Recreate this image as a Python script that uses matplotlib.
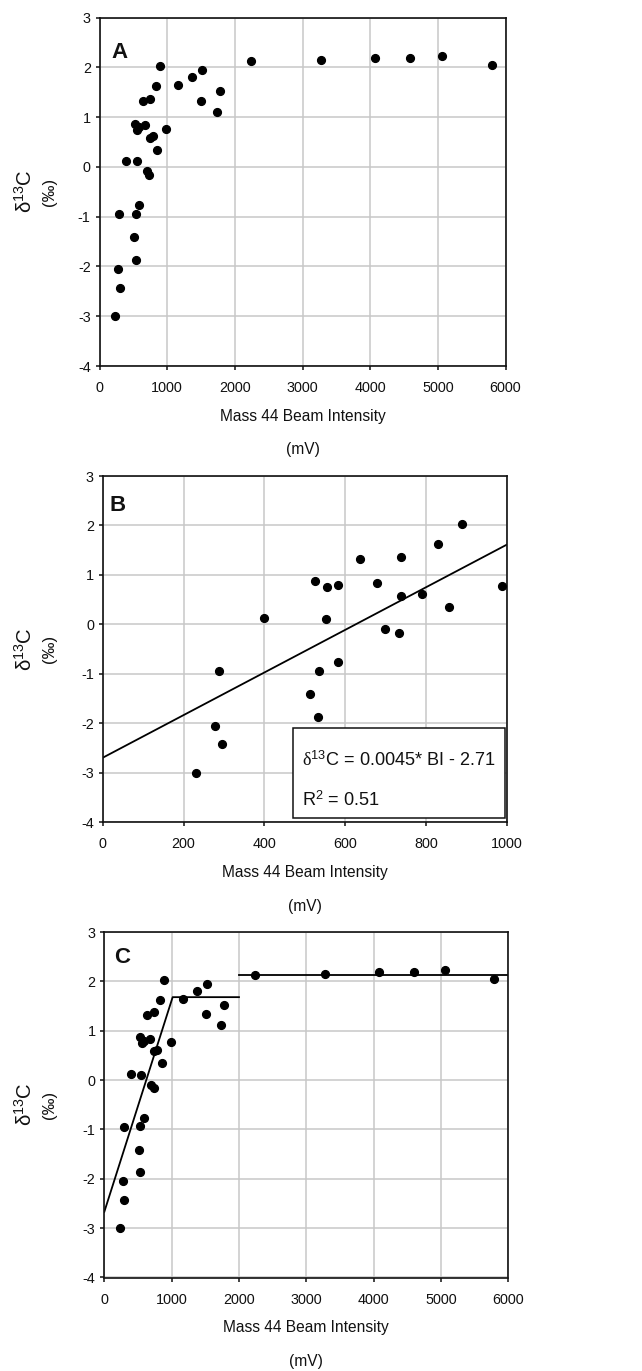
import matplotlib
matplotlib.use("Agg")
import matplotlib.pyplot as plt
from matplotlib import font_manager as fm
from matplotlib.patches import Rectangle

# ---------------- data ----------------
beam_intensity = [231, 277, 296, 287, 399, 526, 514, 534, 536, 552, 555, 583, 583,
                  636, 679, 698, 734, 739, 739, 790, 831, 856, 890, 988,
                  1164, 1371, 1519, 1504, 1785, 1736, 2244, 3274, 4078, 4596, 5059, 5794]
delta13c = [-3.00, -2.05, -2.43, -0.95, 0.12, 0.87, -1.41, -1.87, -0.94, 0.11, 0.75, 0.80, -0.77,
            1.32, 0.84, -0.09, -0.17, 1.37, 0.58, 0.61, 1.62, 0.34, 2.02, 0.77,
            1.65, 1.81, 1.95, 1.33, 1.53, 1.11, 2.12, 2.15, 2.18, 2.18, 2.23, 2.05]

b_fit_x = [0, 1000]
b_fit_y = [-2.70, 1.61]

c_seg1_x = [0, 1015, 2000]
c_seg1_y = [-2.67, 1.68, 1.68]
c_seg2_x = [2000, 6000]
c_seg2_y = [2.12, 2.12]

panel_letters = ["A", "B", "C"]
xticks_wide = [0, 1000, 2000, 3000, 4000, 5000, 6000]
xticks_narrow = [0, 200, 400, 600, 800, 1000]
yticks = [-4, -3, -2, -1, 0, 1, 2, 3]
eq_text = r"$\mathrm{\delta}^{\mathsf{13}}$C = 0.0045* BI - 2.71"
r2_text = r"R$^{\mathsf{2}}$ = 0.51"
xlabel_text = "Mass 44 Beam Intensity"
unit_text = "(mV)"
ylabel_text = r"$\mathsf{\delta}^{\mathsf{13}}$C"
yunit_text = "(‰)"

# ---------------- fonts ----------------
names = {f.name for f in fm.fontManager.ttflist}
if "Liberation Sans Narrow" in names:
    NF = "Liberation Sans Narrow"
    k = 1.0
else:
    NF = "Liberation Sans"
    k = 0.86
plt.rcParams["font.family"] = [NF, "DejaVu Sans"]
plt.rcParams["axes.unicode_minus"] = False
plt.rcParams["mathtext.fontset"] = "custom"
plt.rcParams["mathtext.rm"] = "Liberation Serif"
plt.rcParams["mathtext.it"] = "Liberation Serif:italic"
plt.rcParams["mathtext.sf"] = NF

W, H = 642, 1371
fig = plt.figure(figsize=(W / 100, H / 100), dpi=100)
fig.patch.set_facecolor("white")

# axes boxes in pixels: left, top, right, bottom
boxes = [(99.5, 17.5, 505.5, 366.0),
         (102.7, 476.0, 506.7, 822.0),
         (104.3, 932.0, 508.3, 1277.5)]
letter_off = [(12, 24), (7, 19), (10, 15)]

TICK_FS = 12 * k
LAB_FS = 13 * k


def px2fig(x, y):
    return x / W, 1 - y / H


axes = []
for i, (l, t, r, b) in enumerate(boxes):
    ax = fig.add_axes([l / W, 1 - b / H, (r - l) / W, (b - t) / H])
    axes.append(ax)
    ax.set_ylim(-4, 3)
    ax.set_yticks(yticks)
    if i == 1:
        ax.set_xlim(0, 1000)
        ax.set_xticks(xticks_narrow)
    else:
        ax.set_xlim(0, 6000)
        ax.set_xticks(xticks_wide)
    ax.grid(True, color="#c8c8c8", linewidth=1.1)
    ax.set_axisbelow(True)
    for s in ax.spines.values():
        s.set_color("#111111")
        s.set_linewidth(1.2)
    ax.tick_params(axis="both", direction="out", length=2.8, width=1.1, color="#111111",
                   labelsize=TICK_FS, labelcolor="#111111")
    ax.tick_params(axis="x", pad=8.0)
    ax.tick_params(axis="y", pad=3.5)

    # panel letter
    dx, dy = letter_off[i]
    fx, fy = px2fig(l + dx, t + dy)
    fig.text(fx, fy, panel_letters[i], fontsize=16, fontweight="bold",
             family="Liberation Sans", ha="left", va="top", color="#111111")

    # x labels
    cx = (l + r) / 2
    fx, fy = px2fig(cx, b + 50)
    fig.text(fx, fy, xlabel_text, fontsize=LAB_FS, ha="center", va="center", color="#111111")
    fx, fy = px2fig(cx, b + 84)
    fig.text(fx, fy, unit_text, fontsize=LAB_FS, ha="center", va="center", color="#111111")

    # y labels
    cy = (t + b) / 2
    fx, fy = px2fig(25, cy)
    fig.text(fx, fy, ylabel_text, fontsize=17 * k, rotation=90, ha="center", va="center",
             color="#111111")
    fx, fy = px2fig(50, cy)
    fig.text(fx, fy, yunit_text, fontsize=14 * k, rotation=90, ha="center", va="center",
             color="#111111", family=[NF, "DejaVu Sans"])

# panel A
axes[0].plot(beam_intensity, delta13c, "o", color="black", markersize=5.6, clip_on=False, zorder=3)

# panel B
bx = [x for x in beam_intensity if x <= 1000]
by = [y for x, y in zip(beam_intensity, delta13c) if x <= 1000]
axes[1].plot(bx, by, "o", color="black", markersize=5.6, clip_on=False, zorder=3)
axes[1].plot(b_fit_x, b_fit_y, "-", color="black", linewidth=1.3, zorder=2)
axes[1].add_patch(Rectangle((0.470, 0.011), 0.5265, 0.260, transform=axes[1].transAxes,
                            facecolor="white", edgecolor="#111111", linewidth=1.1, zorder=4))
axes[1].text(0.4925, 0.162, eq_text, transform=axes[1].transAxes, fontsize=15.2 * k,
             ha="left", va="baseline", zorder=5, color="#111111")
axes[1].text(0.4925, 0.046, r2_text, transform=axes[1].transAxes, fontsize=15.2 * k,
             ha="left", va="baseline", zorder=5, color="#111111")

# panel C
axes[2].plot(beam_intensity, delta13c, "o", color="black", markersize=5.6, clip_on=False, zorder=3)
axes[2].plot(c_seg1_x, c_seg1_y, "-", color="black", linewidth=1.3, zorder=2)
axes[2].plot(c_seg2_x, c_seg2_y, "-", color="black", linewidth=1.3, zorder=2)

fig.savefig("out.png", dpi=100, facecolor="white")
